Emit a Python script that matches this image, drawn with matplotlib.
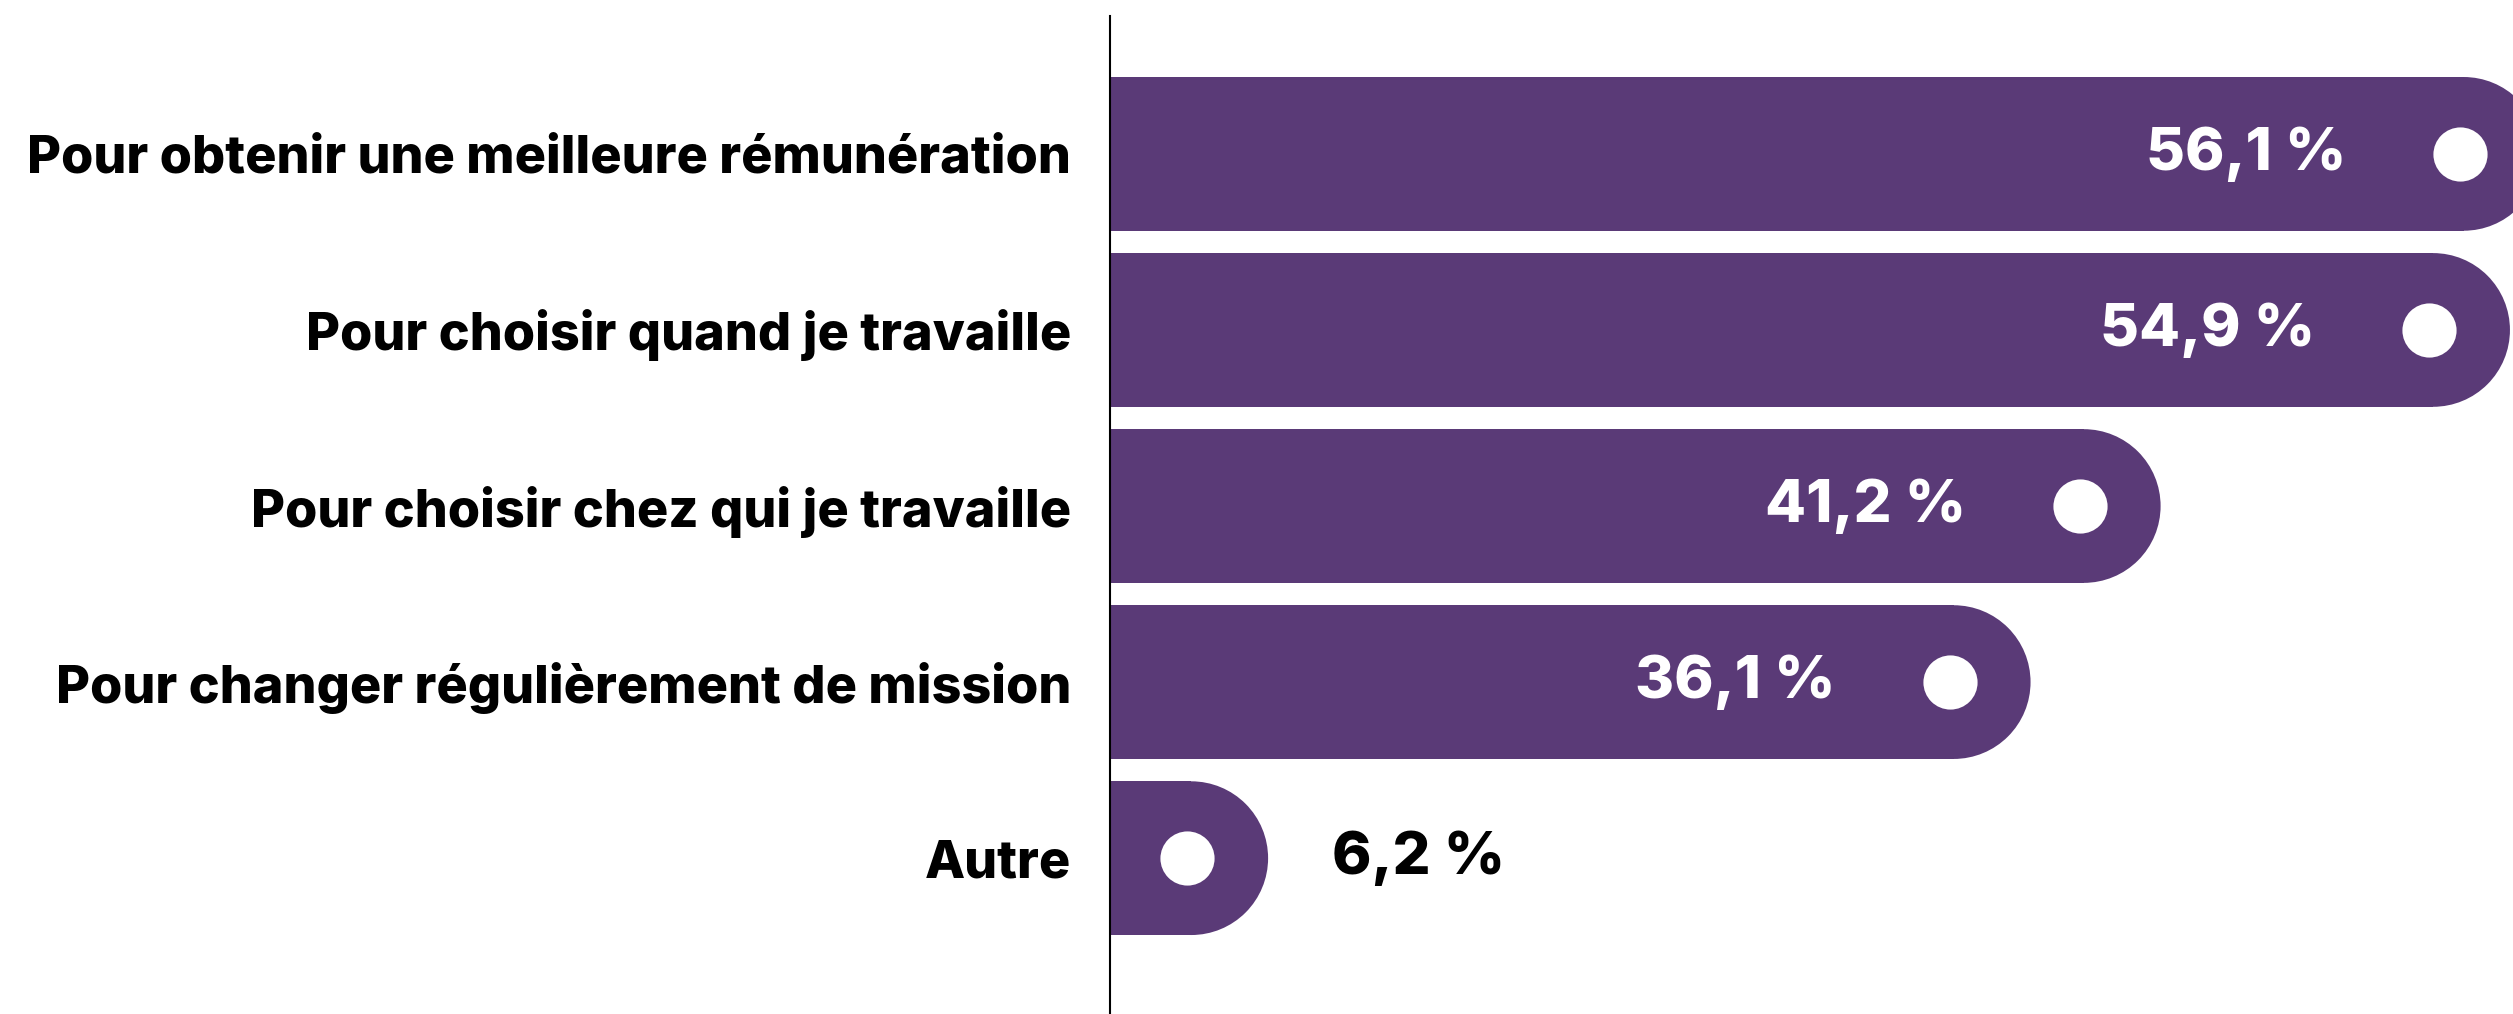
import matplotlib
matplotlib.use("Agg")
import matplotlib.pyplot as plt
from matplotlib.patches import Ellipse

labels = ["Pour obtenir une meilleure rémunération",
          "Pour choisir quand je travaille",
          "Pour choisir chez qui je travaille",
          "Pour changer régulièrement de mission",
          "Autre"]
values = [56.1, 54.9, 41.2, 36.1, 6.2]
value_text = ["56,1 %", "54,9 %", "41,2 %", "36,1 %", "6,2 %"]

purple = "#5a3a77"
plt.rcParams['font.family'] = ['Inter', 'DejaVu Sans']

W, H, dpi = 2513, 1014, 100
fig = plt.figure(figsize=(W / dpi, H / dpi), dpi=dpi)
left_px = 1110
ax = fig.add_axes([left_px / W, 0, 1 - left_px / W, 1 - 16 / H])

px_per_x = 25.5
ax.set_xlim(0, (W - left_px) / px_per_x)
ax.set_ylim(4.885, -0.783)

bh = 0.873
# half bar height in pixels -> same radius in x data units
px_per_y = (H - 16) / (4.885 + 0.783)
rx = (bh / 2) * px_per_y / px_per_x

for i, v in enumerate(values):
    ax.barh(i, v - rx, height=bh, color=purple, left=0, clip_on=True)
    ax.add_patch(Ellipse((v - rx, i), 2 * rx, bh, color=purple, lw=0))
    cx = v - rx * 1.05
    ax.plot(cx, i, 'o', color='white', markersize=39, markeredgewidth=0)
    if v > 20:
        ax.annotate(value_text[i], (cx, i), xytext=(-82, 0), textcoords='offset points',
                    ha='right', va='center', color='white', fontsize=43, fontweight='extra bold')
    else:
        ax.annotate(value_text[i], (v, i), xytext=(46, 0), textcoords='offset points',
                    ha='left', va='center', color='black', fontsize=43, fontweight='extra bold')

ax.set_yticks(range(len(labels)))
ax.set_yticklabels(labels, fontsize=37.6, fontweight='extra bold')
ax.tick_params(axis='y', length=0, pad=28)
ax.set_xticks([])
for s in ['top', 'right', 'bottom']:
    ax.spines[s].set_visible(False)
ax.spines['left'].set_linewidth(1.5)
ax.spines['left'].set_zorder(5)

fig.savefig("out.png", dpi=dpi)
